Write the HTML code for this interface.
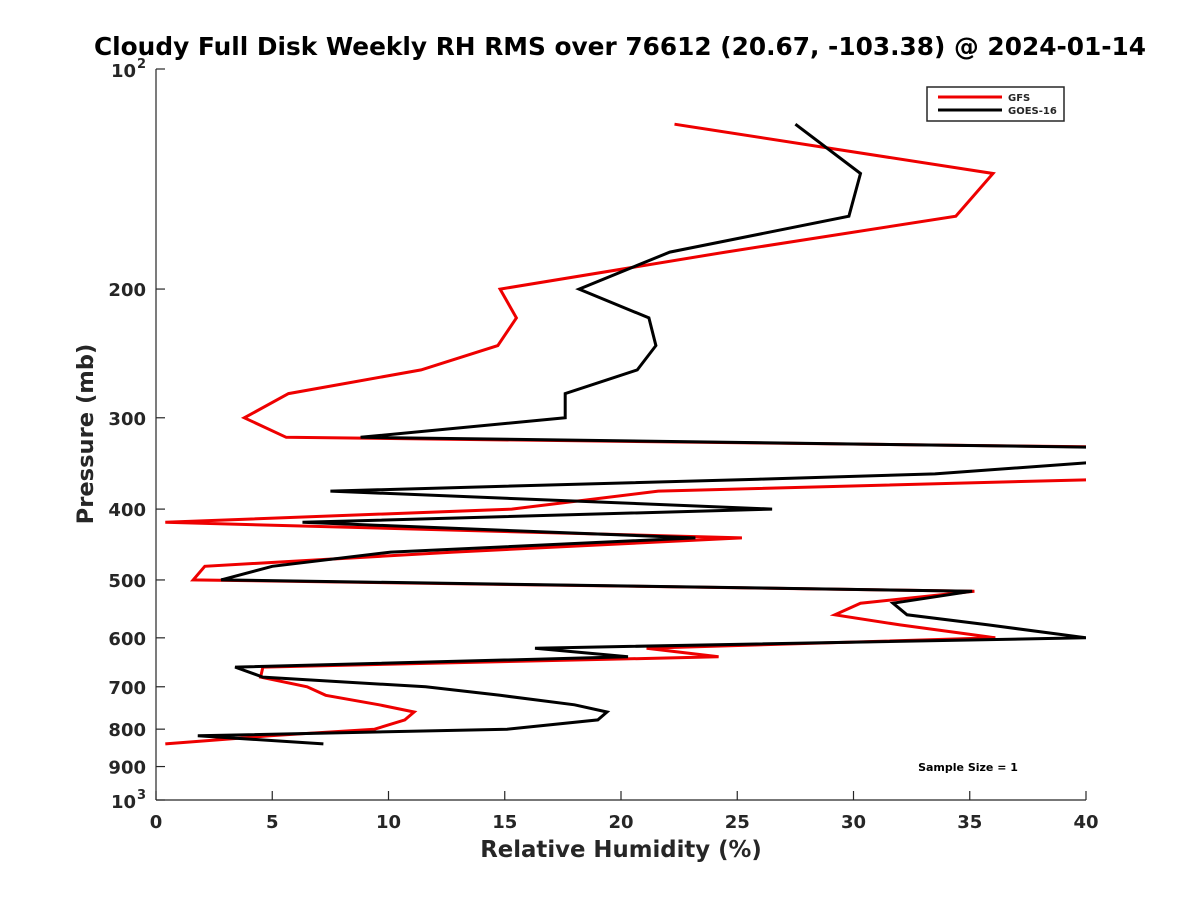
<!DOCTYPE html>
<html><head><meta charset="utf-8"><style>
body{margin:0;background:#fff}
svg text{font-family:"DejaVu Sans","Liberation Sans",sans-serif;font-weight:bold;fill:#262626}
</style></head><body>
<svg id="chart" width="1200" height="900" xmlns="http://www.w3.org/2000/svg">
<defs><clipPath id="clip"><rect x="156" y="69" width="930" height="731"/></clipPath></defs>
<rect width="1200" height="900" fill="#fff"/>
<text x="620" y="55" font-size="24.8" text-anchor="middle" style="fill:#000">Cloudy Full Disk Weekly RH RMS over 76612 (20.67, -103.38) @ 2024-01-14</text>
<g id="axes"></g>
<g id="series" clip-path="url(#clip)"></g>
<g>
<rect x="927" y="87" width="137" height="34" fill="#fff" stroke="#262626" stroke-width="1.5"/>
<line x1="938" y1="97" x2="1002" y2="97" stroke="#e00" stroke-width="3"/>
<text x="1008" y="101" font-size="10">GFS</text>
<line x1="938" y1="110" x2="1002" y2="110" stroke="#000" stroke-width="3"/>
<text x="1008" y="114" font-size="10">GOES-16</text>
</g>
<text x="968" y="771" font-size="11" text-anchor="middle" style="fill:#000">Sample Size = 1</text>
<text x="621" y="857" font-size="22.8" text-anchor="middle">Relative Humidity (%)</text>
<text transform="translate(93,434) rotate(-90)" font-size="22.6" text-anchor="middle">Pressure (mb)</text>
</svg>
<script>
const pressures=[119,139,159,178,200,219,239,258,278,300,319,331,336,344,358,364,378,400,417,438,458,479,500,518,538,558,576,600,620,637,658,679,700,719,741,758,777,800,817,838];
const gfsValues=[22.3,36.0,34.4,24.5,14.8,15.5,14.7,11.4,5.7,3.8,5.6,48,47,46,44,41,21.6,15.3,0.4,25.2,12.8,2.1,1.6,35.2,30.3,29.2,32.0,36.1,21.1,24.2,4.6,4.5,6.5,7.3,9.6,11.1,10.7,9.4,4.9,0.4];
const goesValues=[27.5,30.3,29.8,22.1,18.2,21.2,21.5,20.7,17.6,17.6,8.8,46,42,41,33.5,25.9,7.5,26.5,6.3,23.2,10.1,5.0,2.8,35.1,31.7,32.3,35.8,40.0,16.3,20.3,3.4,4.6,11.6,14.8,18.0,19.4,19.0,15.1,1.8,7.2];
const xTicks=[0,5,10,15,20,25,30,35,40];
const yTicks=[100,200,300,400,500,600,700,800,900,1000];
const yTickLabels=["10^2","200","300","400","500","600","700","800","900","10^3"];
const X0=156,X1=1086,Y0=69,Y1=800;
const xs=v=>X0+(v-0)/(40-0)*(X1-X0);
const ys=p=>Y0+Math.log10(p/100)*(Y1-Y0);
const NS="http://www.w3.org/2000/svg";
const ax=document.getElementById('axes'),se=document.getElementById('series');
function mk(t,a,parent){const e=document.createElementNS(NS,t);for(const k in a)e.setAttribute(k,a[k]);parent.appendChild(e);return e;}
let l=mk('line',{x1:X0,y1:Y0,x2:X0,y2:Y1,stroke:'#262626','stroke-width':1.2},ax);


l=mk('line',{x1:X0,y1:Y1,x2:X1,y2:Y1,stroke:'#262626','stroke-width':1.2},ax);


xTicks.forEach(v=>{
  const x=xs(v);
  mk('line',{x1:x,y1:Y1,x2:x,y2:Y1-9,stroke:'#262626','stroke-width':1.2},ax);
  const t=mk('text',{x:x,y:Y1+28,'font-size':18,'text-anchor':'middle'},ax);
  t.textContent=v;
  
  
});
yTicks.forEach((p,i)=>{
  const y=ys(p);
  mk('line',{x1:X0,y1:y,x2:X0+9,y2:y,stroke:'#262626','stroke-width':1.2},ax);
  const lab=yTickLabels[i];
  const t=mk('text',{x:X0-10,y:y+7,'font-size':18,'text-anchor':'end'},ax);
  
  
  if(lab.includes('^')){
    const [b,e]=lab.split('^');
    t.setAttribute('x',X0-20);
    t.setAttribute('y',y+8);
    t.textContent=b;
    const s=mk('text',{x:X0-10,y:y-1,'font-size':13,'text-anchor':'end'},ax);
    s.textContent=e;
    
    
  } else t.textContent=lab;
});
function line(vals,color,name){
  const pts=vals.map((v,i)=>xs(v).toFixed(1)+','+ys(pressures[i]).toFixed(1)).join(' ');
  const pl=mk('polyline',{points:pts,fill:'none',stroke:color,'stroke-width':3,'stroke-linejoin':'miter'},se);
  
  
}
line(gfsValues,'#e00','gfs-line');
line(goesValues,'#000','goes16-line');
</script>
</body></html>
